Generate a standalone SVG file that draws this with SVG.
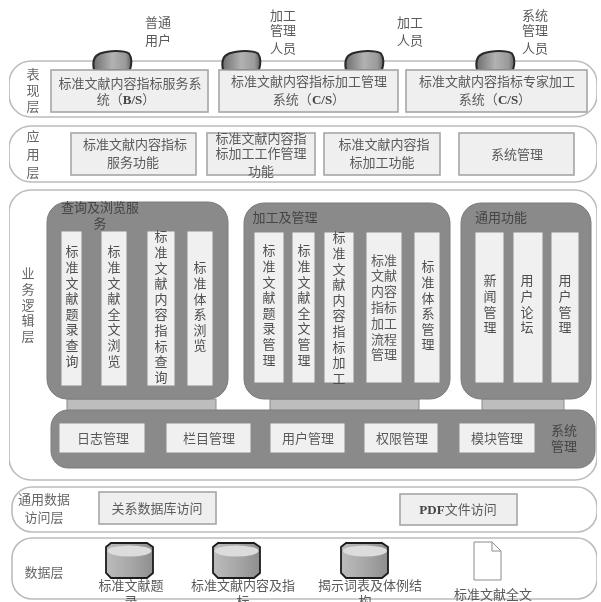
<svg xmlns="http://www.w3.org/2000/svg" width="601" height="602" viewBox="0 0 601 602">
<style>
text{font-family:"Noto Sans CJK SC","Noto Sans CJK JP",sans-serif;font-size:13px;fill:#5a5a5a;text-anchor:middle}
.l{font-size:13px;fill:#666}
.lat{font-family:"Liberation Serif",serif;font-weight:bold;fill:#444}
.v{writing-mode:vertical-rl;text-orientation:upright;text-anchor:start;letter-spacing:2.6px;fill:#505050}
.vl{writing-mode:vertical-rl;text-orientation:upright;text-anchor:start;letter-spacing:3px;fill:#666}
.layer{fill:#fff;stroke:#bcbcbc;stroke-width:1.6}
.box{fill:#efefef;stroke:#a6a6a6;stroke-width:1.6}
.col{fill:#f0f0f0;stroke:#8c8c8c;stroke-width:1}
.grp{fill:#8a8a8a;stroke:#7c7c7c;stroke-width:1}
.bar{fill:#bdbdbd;stroke:#8c8c8c;stroke-width:1}
.user{fill:url(#ug);stroke:#2a2a2a;stroke-width:2}
.cyl{fill:url(#cg);stroke:#1c1c1c;stroke-width:1.8}
.top{fill:#dcdcdc}
</style>
<defs>
<linearGradient id="ug" x1="0" x2="1" y1="0" y2="0"><stop offset="0" stop-color="#6e6e6e"/><stop offset=".5" stop-color="#b2b2b2"/><stop offset=".85" stop-color="#9a9a9a"/><stop offset="1" stop-color="#666"/></linearGradient>
<linearGradient id="cg" x1="0" x2="1" y1="0" y2="0"><stop offset="0" stop-color="#bcbcbc"/><stop offset=".55" stop-color="#a6a6a6"/><stop offset="1" stop-color="#8e8e8e"/></linearGradient>
<filter id="soft" x="0" y="0" width="1" height="1"><feGaussianBlur stdDeviation="0.5"/></filter>
<path id="u" d="M1 20C-1 11 1 6 7 3.500C16 0 31 0 36 3.500C39 8 38.500 15 37 20Z"/>
<path id="c" d="M5 0H41L47 4V30L41 35H5L0 30V4Z"/>
</defs>
<rect width="601" height="602" fill="#fff"/>
<g filter="url(#soft)">
<g id="layer-present">
<rect class="layer" x="9" y="61" width="588" height="56" rx="22"/>
<text class="vl" x="33" y="68">表现层</text>
</g>
<g id="layer-app">
<rect class="layer" x="9" y="126" width="588" height="56" rx="22"/>
<text class="vl" x="33" y="130" style="letter-spacing:5px">应用层</text>
</g>
<g id="layer-logic">
<rect class="layer" x="9" y="190" width="588" height="290" rx="22"/>
<text class="v" x="28" y="267" style="fill:#666">业务逻辑层</text>
</g>
<g id="layer-access">
<rect class="layer" x="12" y="487" width="585" height="45" rx="20"/>
<text class="l" x="44" y="504">通用数据</text>
<text class="l" x="44" y="522">访问层</text>
</g>
<g id="layer-data">
<rect class="layer" x="12" y="538" width="585" height="61" rx="20"/>
<text class="l" x="44" y="577">数据层</text>
</g>

<g id="connectors">
<rect class="bar" x="67" y="399" width="149" height="12"/>
<rect class="bar" x="270" y="399" width="149" height="12"/>
<rect class="bar" x="482" y="399" width="82" height="12"/>
</g>

<g id="user-1"><use href="#u" class="user" x="93" y="50"/><text x="158" y="27">普通</text><text x="158" y="45">用户</text></g>
<g id="user-2"><use href="#u" class="user" x="222" y="50"/><text x="283" y="20">加工</text><text x="283" y="35">管理</text><text x="283" y="53">人员</text></g>
<g id="user-3"><use href="#u" class="user" x="345" y="50"/><text x="410" y="27">加工</text><text x="410" y="45">人员</text></g>
<g id="user-4"><use href="#u" class="user" x="476" y="50"/><text x="535" y="20">系统</text><text x="535" y="35">管理</text><text x="535" y="53">人员</text></g>

<g id="sys-bs"><rect class="box" x="51" y="70" width="157" height="42"/><text x="130" y="88">标准文献内容指标服务系</text><text x="126" y="104">统（<tspan class="lat">B/S</tspan>）</text></g>
<g id="sys-cs1"><rect class="box" x="219" y="70" width="179" height="42"/><text x="309" y="86">标准文献内容指标加工管理</text><text x="309" y="104">系统（<tspan class="lat">C/S</tspan>）</text></g>
<g id="sys-cs2"><rect class="box" x="406" y="70" width="181" height="42"/><text x="497" y="86">标准文献内容指标专家加工</text><text x="495" y="104">系统（<tspan class="lat">C/S</tspan>）</text></g>

<g id="app-1"><rect class="box" x="71" y="133" width="125" height="42"/><text x="135" y="149">标准文献内容指标</text><text x="133" y="167">服务功能</text></g>
<g id="app-2"><rect class="box" x="207" y="133" width="108" height="42"/><text x="261" y="143">标准文献内容指</text><text x="261" y="158">标加工工作管理</text><text x="261" y="176">功能</text></g>
<g id="app-3"><rect class="box" x="324" y="133" width="116" height="42"/><text x="384" y="149">标准文献内容指</text><text x="382" y="167">标加工功能</text></g>
<g id="app-4"><rect class="box" x="459" y="133" width="115" height="42"/><text x="517" y="159">系统管理</text></g>

<g id="group-query">
<rect class="grp" x="47" y="202" width="181" height="197" rx="20"/>
<text x="100" y="212" style="fill:#444">查询及浏览服</text><text x="100" y="228" style="fill:#444">务</text>
<rect class="col" x="61" y="231" width="21" height="155"/><text class="v" x="72" y="245">标准文献题录查询</text>
<rect class="col" x="101" y="231" width="26" height="155"/><text class="v" x="114" y="245">标准文献全文浏览</text>
<rect class="col" x="147" y="231" width="28" height="155"/><text class="v" x="161" y="230">标准文献内容指标查询</text>
<rect class="col" x="187" y="231" width="26" height="155"/><text class="v" x="200" y="261">标准体系浏览</text>
</g>
<g id="group-process">
<rect class="grp" x="244" y="203" width="206" height="196" rx="20"/>
<text x="285" y="222" style="fill:#444">加工及管理</text>
<rect class="col" x="254" y="232" width="30" height="151"/><text class="v" x="269" y="244">标准文献题录管理</text>
<rect class="col" x="292" y="232" width="23" height="151"/><text class="v" x="304" y="244">标准文献全文管理</text>
<rect class="col" x="324" y="232" width="30" height="151"/><text class="v" x="339" y="231">标准文献内容指标加工</text>
<rect class="col" x="366" y="232" width="36" height="151"/>
<text x="384" y="265">标准</text><text x="384" y="280">文献</text><text x="384" y="296">内容</text><text x="384" y="312">指标</text><text x="384" y="328">加工</text><text x="384" y="344">流程</text><text x="384" y="359">管理</text>
<rect class="col" x="414" y="232" width="26" height="151"/><text class="v" x="428" y="260">标准体系管理</text>
</g>
<g id="group-common">
<rect class="grp" x="461" y="203" width="130" height="196" rx="20"/>
<text x="501" y="222" style="fill:#444">通用功能</text>
<rect class="col" x="475" y="232" width="29" height="151"/><text class="v" x="490" y="274">新闻管理</text>
<rect class="col" x="513" y="232" width="30" height="151"/><text class="v" x="527" y="274">用户论坛</text>
<rect class="col" x="551" y="232" width="28" height="151"/><text class="v" x="565" y="274">用户管理</text>
</g>
<g id="group-system">
<rect class="grp" x="51" y="410" width="544" height="58" rx="17"/>
<rect class="col" x="59" y="423" width="86" height="30"/><text x="103" y="443">日志管理</text>
<rect class="col" x="166" y="423" width="85" height="30"/><text x="209" y="443">栏目管理</text>
<rect class="col" x="270" y="423" width="75" height="30"/><text x="308" y="443">用户管理</text>
<rect class="col" x="364" y="423" width="74" height="30"/><text x="402" y="443">权限管理</text>
<rect class="col" x="459" y="423" width="76" height="30"/><text x="497" y="443">模块管理</text>
<text x="564" y="435" style="fill:#444">系统</text><text x="564" y="451" style="fill:#444">管理</text>
</g>

<g id="access-db"><rect class="box" x="99" y="492" width="117" height="32"/><text x="157" y="513">关系数据库访问</text></g>
<g id="access-pdf"><rect class="box" x="400" y="494" width="117" height="31"/><text x="458" y="514"><tspan class="lat">PDF</tspan>文件访问</text></g>

<g id="db-1"><use href="#c" class="cyl" x="106" y="543"/><ellipse class="top" cx="129.500" cy="551" rx="22" ry="5.500"/><text x="131" y="590">标准文献题</text><text x="131" y="606">录</text></g>
<g id="db-2"><use href="#c" class="cyl" x="213" y="543"/><ellipse class="top" cx="236.500" cy="551" rx="22" ry="5.500"/><text x="243" y="590">标准文献内容及指</text><text x="243" y="606">标</text></g>
<g id="db-3"><use href="#c" class="cyl" x="341" y="543"/><ellipse class="top" cx="365" cy="551" rx="22" ry="5.500"/><text x="370" y="590">揭示词表及体例结</text><text x="365" y="606">构</text></g>
<g id="doc"><path d="M474 542H492L501 551V580H474Z" fill="#fff" stroke="#8c8c8c" stroke-width="1"/><path d="M492 542V551H501" fill="none" stroke="#8c8c8c" stroke-width="1"/><text x="493" y="599">标准文献全文</text></g>
</g>
</svg>
